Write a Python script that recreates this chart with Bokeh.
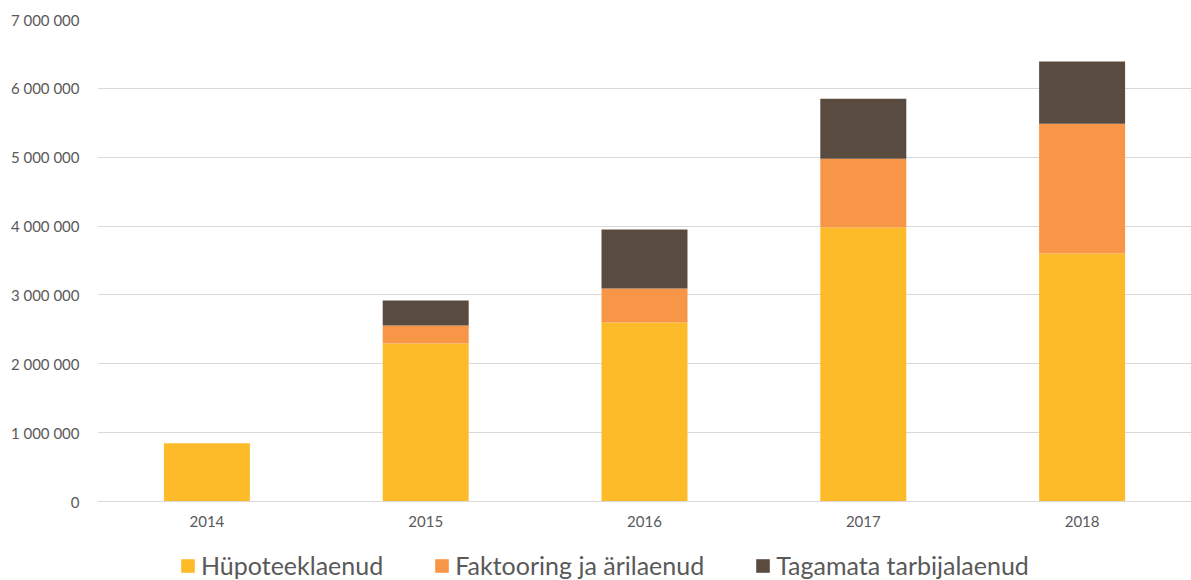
from bokeh.plotting import figure
from bokeh.layouts import column
from bokeh.models import ColumnDataSource, Legend, LegendItem, CustomJSTickFormatter, FixedTicker, Range1d, FactorRange
from bokeh.embed import file_html
from bokeh.resources import INLINE

years = ["2014", "2015", "2016", "2017", "2018"]
hypo = [845000, 2295000, 2600000, 3980000, 3600000]
fakt = [0, 260000, 493000, 997000, 1885000]
taga = [0, 363000, 857000, 873000, 905000]
series_names = ["Hüpoteeklaenud", "Faktooring ja ärilaenud", "Tagamata tarbijalaenud"]
y_ticks = [0, 1000000, 2000000, 3000000, 4000000, 5000000, 6000000, 7000000]

colors = ["#FDBB2A", "#F79646", "#5A4B41"]
FONT = "Lato"
TXT = "#595959"

src = ColumnDataSource(dict(year=years, hypo=hypo, fakt=fakt, taga=taga))

p = figure(x_range=FactorRange(*years, range_padding=0), y_range=Range1d(0, 7000000),
           width=1191, height=535, output_backend="svg", toolbar_location=None,
           min_border_left=97, min_border_right=0, min_border_top=19, min_border_bottom=34)
p.outline_line_color = None

p.vbar_stack(["hypo", "fakt", "taga"], x="year", width=0.393, color=colors,
             line_color=None, source=src)

p.yaxis.ticker = FixedTicker(ticks=y_ticks)
p.yaxis.formatter = CustomJSTickFormatter(code="return tick.toFixed(0).replace(/\\B(?=(\\d{3})+(?!\\d))/g, ' ');")
p.yaxis.axis_line_color = None
p.yaxis.major_tick_line_color = None
p.yaxis.minor_tick_line_color = None
p.yaxis.major_label_standoff = 12
p.xaxis.axis_line_color = "#D9D9D9"
p.xaxis.major_tick_line_color = None
p.xaxis.major_label_standoff = 8
for ax in (p.xaxis, p.yaxis):
    ax.major_label_text_font = FONT
    ax.major_label_text_font_size = "15px"
    ax.major_label_text_color = TXT
p.xgrid.grid_line_color = None
p.ygrid.grid_line_color = "#D9D9D9"
p.ygrid.ticker = FixedTicker(ticks=y_ticks)

# legend strip (its swatch renderers sit outside the visible range)
lf = figure(width=1191, height=45, output_backend="svg", toolbar_location=None,
            min_border=0, x_range=Range1d(0, 1), y_range=Range1d(0, 1))
lf.axis.visible = False
lf.grid.visible = False
lf.outline_line_color = None
lrs = [lf.rect(x=[-10], y=[-10], width=1, height=1, fill_color=c, line_color=None) for c in colors]
legend = Legend(items=[LegendItem(label=n, renderers=[r]) for n, r in zip(series_names, lrs)],
                orientation="horizontal", location=(82, 0), border_line_color=None,
                background_fill_alpha=0, padding=0, margin=0, spacing=50,
                glyph_width=17, glyph_height=17, label_standoff=5,
                label_text_font=FONT, label_text_font_size="25px", label_text_color=TXT)
lf.add_layout(legend, "center")

open("out.html", "w").write(file_html(column(p, lf, spacing=0), INLINE))
